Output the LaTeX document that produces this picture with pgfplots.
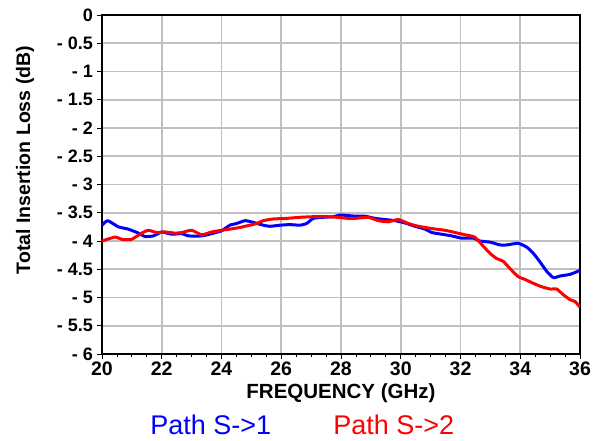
\documentclass[border=0pt]{standalone}
\usepackage{pgfplots}
\pgfplotsset{compat=1.18}
\usepackage{fontspec}
\setmainfont{Liberation Sans}
\begin{document}
\begin{tikzpicture}[x=1pt,y=1pt]
\path[use as bounding box] (-102,-87) rectangle (497,354);
\begin{axis}[
 at={(0,0)}, anchor=south west,
 scale only axis, width=478pt, height=339pt,
 xmin=20, xmax=36, ymin=-6, ymax=0,
 xtick={20,22,24,26,28,30,32,34,36},
 xticklabels={20,22,24,26,28,30,32,34,36},
 ytick={-6,-5.5,-5,-4.5,-4,-3.5,-3,-2.5,-2,-1.5,-1,-0.5,0},
 yticklabels={- 6,- 5.5,- 5,- 4.5,- 4,- 3.5,- 3,- 2.5,- 2,- 1.5,- 1,- 0.5,0},
 minor x tick num=3,
 xtick pos=bottom, ytick pos=left,
 tick align=outside, major tick length=5pt, minor tick length=3pt,
 every tick/.style={black, line width=0.8pt},
 grid=major, major grid style={draw=black!25, line width=1.6pt},
 axis line style={black, line width=1.2pt},
 xticklabel style={font=\fontsize{19.5}{19.5}\selectfont\bfseries, inner sep=1pt, yshift=-2pt},
 yticklabel style={font=\fontsize{18}{18}\selectfont\bfseries, inner sep=1pt, xshift=-3pt},
 xlabel={FREQUENCY (GHz)},
 ylabel={Total Insertion Loss (dB)},
 xlabel style={font=\fontsize{20.5}{20.5}\selectfont\bfseries, at={(0.5,0)}, anchor=center, yshift=-39pt},
 ylabel style={font=\fontsize{19.5}{19.5}\selectfont\bfseries, at={(0,0.572)}, anchor=center, yshift=77pt},
 legend style={draw=none, fill=none, at={(0.419,-0.211)}, anchor=center, legend columns=2,
   inner sep=0pt, font=\fontsize{27}{27}\selectfont, /tikz/every even column/.append style={column sep=58pt}},
 legend image code/.code={},
 clip=true,
]
\addplot[blue, line width=3pt, line join=round, smooth, tension=0.3] coordinates {
(20.00,-3.72) (20.19,-3.64) (20.55,-3.75) (20.88,-3.79) (21.22,-3.86) (21.44,-3.92)
(21.72,-3.91) (22.00,-3.84) (22.33,-3.88) (22.67,-3.87) (22.89,-3.91) (23.34,-3.91)
(23.67,-3.87) (24.00,-3.82) (24.28,-3.72) (24.51,-3.69) (24.79,-3.64) (25.06,-3.67)
(25.40,-3.72) (25.62,-3.74) (25.96,-3.72) (26.29,-3.71) (26.63,-3.72) (26.85,-3.69)
(27.07,-3.60) (27.41,-3.58) (27.74,-3.57) (27.97,-3.54) (28.24,-3.55) (28.47,-3.56)
(28.80,-3.56) (29.14,-3.60) (29.47,-3.62) (29.81,-3.64) (30.14,-3.68) (30.48,-3.74)
(30.81,-3.79) (31.04,-3.85) (31.37,-3.88) (31.71,-3.91) (32.04,-3.95) (32.43,-3.95)
(32.65,-4.00) (32.99,-4.02) (33.32,-4.07) (33.55,-4.07) (33.93,-4.04) (34.22,-4.11)
(34.44,-4.22) (34.66,-4.37) (34.89,-4.54) (35.11,-4.65) (35.33,-4.62) (35.67,-4.59)
(36.00,-4.52)
};
\addlegendentry{\textcolor{blue}{Path S->1}}
\addplot[red, line width=3pt, line join=round, smooth, tension=0.3] coordinates {
(20.00,-4.00) (20.44,-3.93) (20.66,-3.97) (20.99,-3.97) (21.33,-3.86) (21.55,-3.81)
(21.83,-3.85) (22.11,-3.84) (22.44,-3.86) (22.67,-3.85) (23.00,-3.81) (23.34,-3.89)
(23.67,-3.84) (24.00,-3.81) (24.28,-3.79) (24.62,-3.76) (24.95,-3.72) (25.18,-3.69)
(25.40,-3.64) (25.73,-3.61) (26.18,-3.60) (26.63,-3.58) (27.07,-3.57) (27.52,-3.57)
(27.86,-3.58) (28.24,-3.60) (28.47,-3.60) (28.91,-3.58) (29.25,-3.64) (29.58,-3.66)
(29.92,-3.62) (30.25,-3.69) (30.59,-3.74) (31.04,-3.78) (31.48,-3.81) (31.82,-3.85)
(32.15,-3.89) (32.43,-3.92) (32.54,-3.96) (32.76,-4.09) (32.99,-4.22) (33.21,-4.31)
(33.43,-4.36) (33.66,-4.49) (33.93,-4.63) (34.16,-4.68) (34.44,-4.75) (34.72,-4.81)
(35.00,-4.85) (35.22,-4.85) (35.44,-4.95) (35.67,-5.04) (35.83,-5.07) (36.00,-5.17)
};
\addlegendentry{\textcolor{red}{Path S->2}}
\end{axis}
\end{tikzpicture}
\end{document}
